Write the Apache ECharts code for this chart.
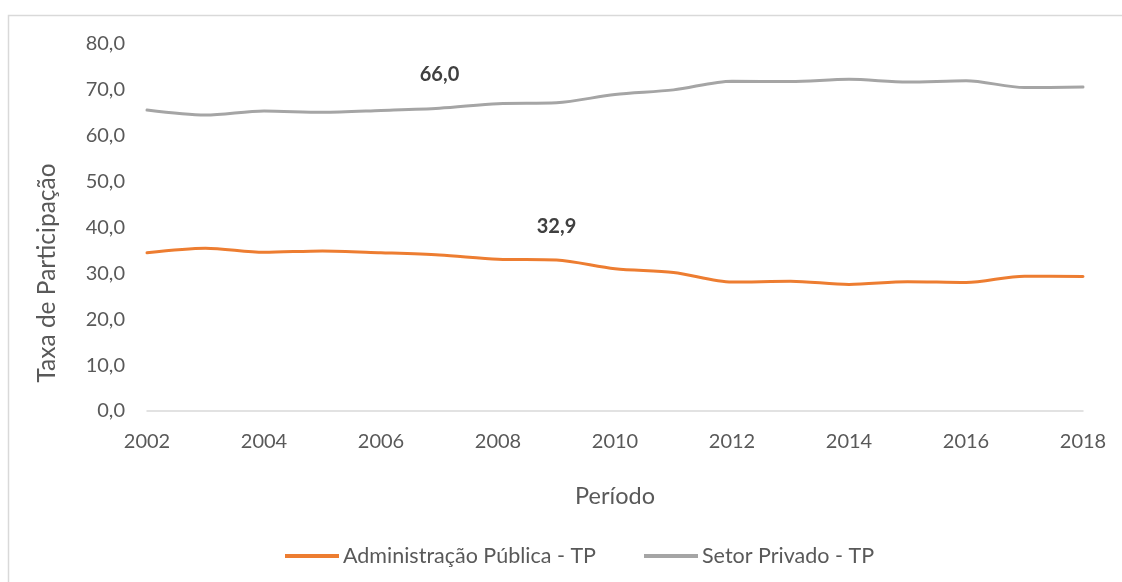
<!DOCTYPE html>
<html>
<head>
<meta charset="utf-8">
<script src="https://cdn.jsdelivr.net/npm/echarts@6/dist/echarts.min.js"></script>
<style>
  html, body { margin: 0; padding: 0; background: #fff; }
  #chart { width: 1122px; height: 582px; }
</style>
</head>
<body>
<div id="chart"></div>
<script>
// Participation rate by sector, 2002–2018
const years = [2002, 2003, 2004, 2005, 2006, 2007, 2008, 2009, 2010, 2011, 2012, 2013, 2014, 2015, 2016, 2017, 2018];
const adminPublica = [34.5, 35.5, 34.6, 34.9, 34.5, 34.0, 33.1, 32.9, 31.0, 30.2, 28.1, 28.3, 27.6, 28.2, 28.0, 29.4, 29.3];
const setorPrivado = [65.6, 64.5, 65.4, 65.1, 65.5, 66.0, 67.0, 67.2, 69.0, 70.0, 71.9, 71.8, 72.3, 71.7, 72.0, 70.5, 70.6];
const seriesNames = ['Administração Pública - TP', 'Setor Privado - TP'];
// years whose value is written on the line
const labelYearAdmin = 2009;
const labelYearPrivado = 2007;

const FONT = 'Lato, "Open Sans", sans-serif';
const TEXT = '#595959';
const fmt = v => v.toFixed(1).replace('.', ',');

function build(values, labelYear) {
  return years.map((y, i) => {
    const item = { value: [y, values[i]] };
    if (y === labelYear) {
      item.label = {
        show: true,
        position: 'top',
        distance: 24,
        formatter: p => fmt(p.value[1]),
        fontFamily: FONT,
        fontWeight: 'bold',
        fontSize: 20,
        color: '#404040'
      };
    }
    return item;
  });
}

const chart = echarts.init(document.getElementById('chart'));
chart.setOption({
  animation: false,
  backgroundColor: '#fff',
  textStyle: { fontFamily: FONT },
  grid: { left: 147, right: 39, top: 44, bottom: 171 },
  legend: {
    top: 540,
    left: 280,
    itemWidth: 54,
    itemHeight: 4,
    itemGap: 48,
    icon: 'rect',
    textStyle: { fontFamily: FONT, fontSize: 21.5, color: TEXT, padding: [0, 0, 0, -1] },
    data: seriesNames
  },
  xAxis: {
    type: 'value',
    min: 2002,
    max: 2018,
    interval: 2,
    name: 'Período',
    nameLocation: 'middle',
    nameGap: 73,
    nameTextStyle: { fontFamily: FONT, fontSize: 23.5, color: TEXT },
    axisLine: { show: true, lineStyle: { color: '#d9d9d9', width: 1.5 } },
    axisTick: { show: false },
    splitLine: { show: false },
    axisLabel: { fontFamily: FONT, fontSize: 20, color: TEXT, margin: 21, formatter: v => String(v) }
  },
  yAxis: {
    type: 'value',
    min: 0,
    max: 80,
    interval: 10,
    axisLine: { show: false },
    axisTick: { show: false },
    splitLine: { show: false },
    axisLabel: { fontFamily: FONT, fontSize: 20, color: TEXT, margin: 22, formatter: v => fmt(v) }
  },
  graphic: [
    {
      type: 'rect',
      silent: true,
      shape: { x: 8.5, y: 15.5, width: 1300, height: 800 },
      style: { fill: 'none', stroke: '#d9d9d9', lineWidth: 1.5 }
    },
    {
      type: 'text',
      silent: true,
      x: 47,
      y: 273,
      rotation: Math.PI / 2,
      style: {
        text: 'Taxa de Participação',
        font: '24.5px ' + FONT,
        fill: TEXT,
        align: 'center',
        verticalAlign: 'middle'
      }
    }
  ],
  series: [
    {
      name: seriesNames[0],
      type: 'line',
      smooth: 0.3,
      showSymbol: true,
      symbol: 'circle',
      symbolSize: 0,
      lineStyle: { width: 3, color: '#ED7D31', cap: 'round' },
      itemStyle: { color: '#ED7D31' },
      data: build(adminPublica, labelYearAdmin)
    },
    {
      name: seriesNames[1],
      type: 'line',
      smooth: 0.3,
      showSymbol: true,
      symbol: 'circle',
      symbolSize: 0,
      lineStyle: { width: 3, color: '#A5A5A5', cap: 'round' },
      itemStyle: { color: '#A5A5A5' },
      data: build(setorPrivado, labelYearPrivado)
    }
  ]
});
</script>
</body>
</html>
